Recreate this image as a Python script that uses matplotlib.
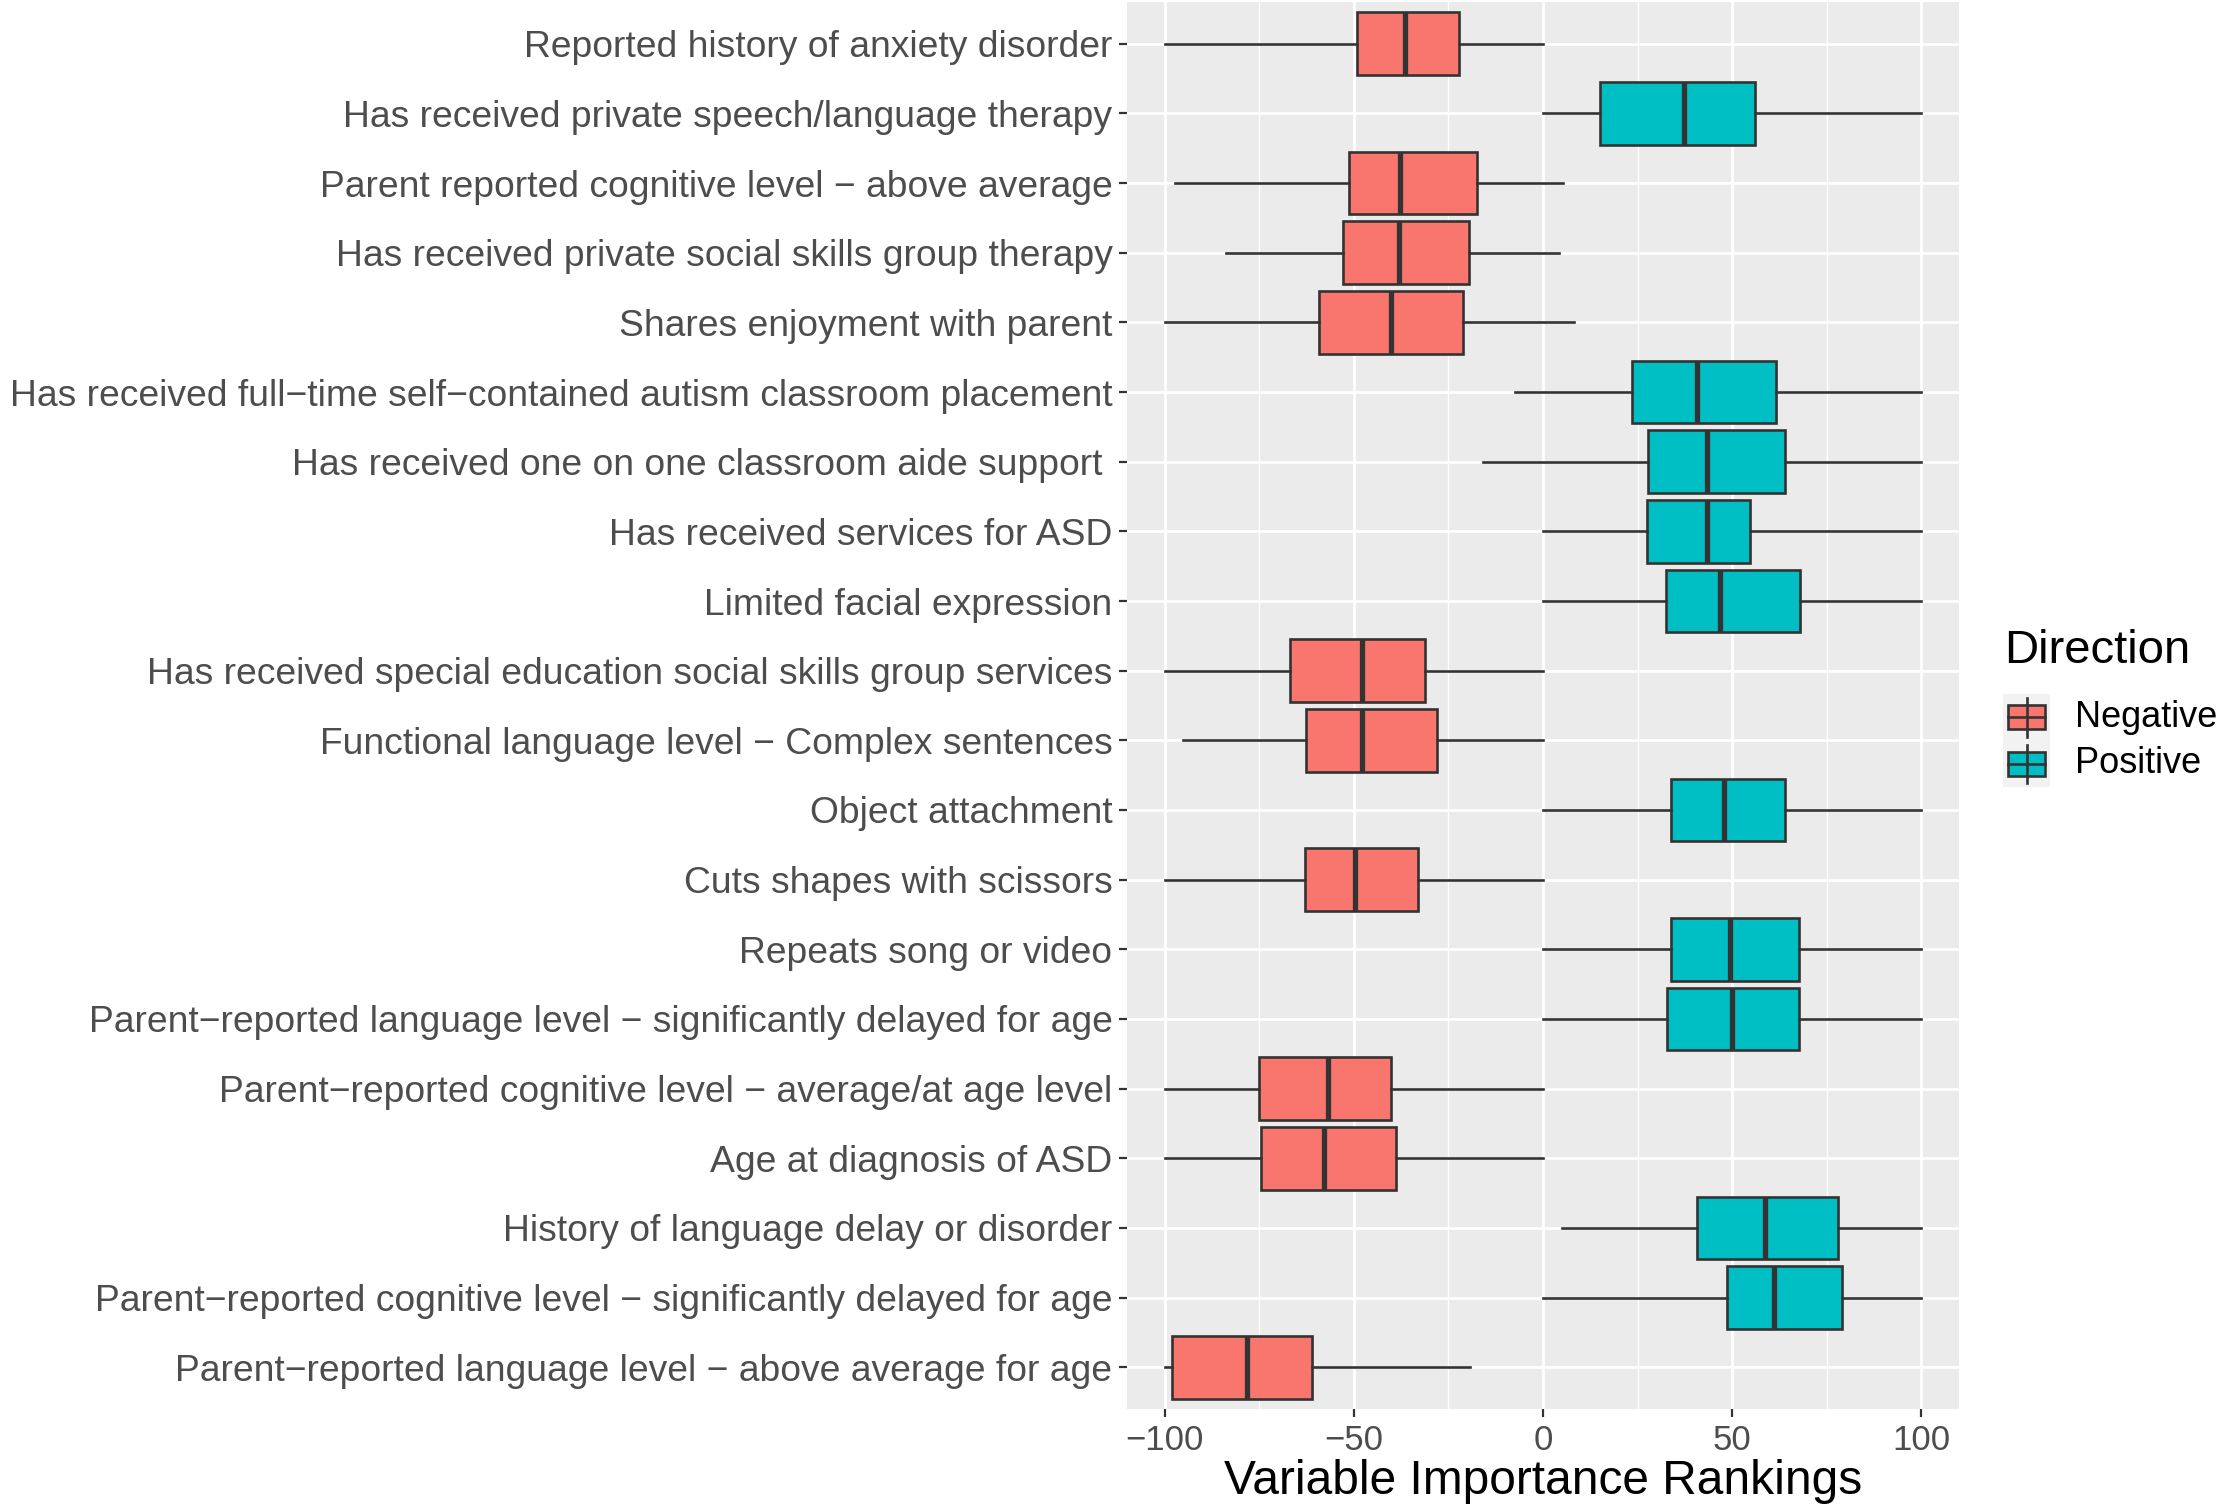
import matplotlib
matplotlib.use("Agg")
import matplotlib.pyplot as plt
from matplotlib.patches import Rectangle
from matplotlib.lines import Line2D

plt.rcParams['font.family'] = ['Liberation Sans', 'DejaVu Sans']

# ---------------- data (top to bottom) ----------------
categories = [
    "Reported history of anxiety disorder",
    "Has received private speech/language therapy",
    "Parent reported cognitive level \u2212 above average",
    "Has received private social skills group therapy",
    "Shares enjoyment with parent",
    "Has received full\u2212time self\u2212contained autism classroom placement",
    "Has received one on one classroom aide support ",
    "Has received services for ASD",
    "Limited facial expression",
    "Has received special education social skills group services",
    "Functional language level \u2212 Complex sentences",
    "Object attachment",
    "Cuts shapes with scissors",
    "Repeats song or video",
    "Parent\u2212reported language level \u2212 significantly delayed for age",
    "Parent\u2212reported cognitive level \u2212 average/at age level",
    "Age at diagnosis of ASD",
    "History of language delay or disorder",
    "Parent\u2212reported cognitive level \u2212 significantly delayed for age",
    "Parent\u2212reported language level \u2212 above average for age",
]
direction = ["Negative", "Positive", "Negative", "Negative", "Negative",
             "Positive", "Positive", "Positive", "Positive", "Negative",
             "Negative", "Positive", "Negative", "Positive", "Positive",
             "Negative", "Negative", "Positive", "Positive", "Negative"]
whisker_low = [-100, 0, -97.2, -83.9, -100, -7.4, -15.9, 0, 0, -100,
               -95.2, 0, -100, 0, 0, -100, -100, 5.1, 0, -100]
q1 = [-49.1, 15.2, -51.4, -52.8, -59.3, 23.6, 27.8, 27.5, 32.6, -66.8,
      -62.6, 33.9, -62.9, 33.9, 32.9, -75.1, -74.5, 40.6, 48.6, -98.1]
median = [-36.4, 37.2, -37.8, -38.1, -40.1, 40.6, 43.3, 43.3, 46.8, -47.9,
          -47.9, 47.9, -49.7, 49.5, 50.1, -56.8, -58.0, 58.7, 61.0, -78.2]
q3 = [-22.2, 56.1, -17.5, -19.6, -21.1, 61.6, 63.9, 54.7, 68.0, -31.1,
      -28.0, 63.9, -33.0, 67.7, 67.7, -40.3, -38.8, 78.1, 79.1, -61.1]
whisker_high = [0, 100, 5.4, 4.3, 8.3, 100, 100, 100, 100, 0,
                0, 100, 0, 100, 100, 0, 0, 100, 100, -19.2]
x_ticks = [-100, -50, 0, 50, 100]
x_tick_labels = ["\u2212100", "\u221250", "0", "50", "100"]
legend_levels = ["Negative", "Positive"]

colors = {"Negative": "#F8766D", "Positive": "#00BFC4"}
EDGE = "#333333"

W, H = 2228, 1507
fig = plt.figure(figsize=(W / 100, H / 100), dpi=100)
fig.patch.set_facecolor("white")

# axes placement in pixels
left_px, right_px, top_px, bottom_px = 1127, 1959, 2, 1409
ax = fig.add_axes([left_px / W, 1 - bottom_px / H,
                   (right_px - left_px) / W, (bottom_px - top_px) / H])
ax.set_facecolor("#EBEBEB")

n = len(categories)
positions = [n - i for i in range(n)]

for d in legend_levels:
    idx = [i for i in range(n) if direction[i] == d]
    stats = [dict(med=median[i], q1=q1[i], q3=q3[i],
                  whislo=whisker_low[i], whishi=whisker_high[i], fliers=[])
             for i in idx]
    ax.bxp(stats, positions=[positions[i] for i in idx], widths=0.9,
           orientation='horizontal', patch_artist=True, showcaps=False,
           showfliers=False,
           boxprops=dict(facecolor=colors[d], edgecolor=EDGE, linewidth=1.9),
           medianprops=dict(color=EDGE, linewidth=3.8, solid_capstyle='butt'),
           whiskerprops=dict(color=EDGE, linewidth=1.9),
           manage_ticks=False, zorder=3)

ax.set_xlim(-110, 110)
ax.set_ylim(0.4, n + 0.6)
ax.set_xticks(x_ticks)
ax.set_xticklabels(x_tick_labels)
ax.set_xticks([-75, -25, 25, 75], minor=True)
ax.set_yticks(positions)
ax.set_yticklabels(categories)

ax.grid(which='major', color='white', linewidth=2.0, zorder=0)
ax.grid(which='minor', axis='x', color='white', linewidth=1.0, zorder=0)
ax.set_axisbelow(True)
for s in ax.spines.values():
    s.set_visible(False)

ax.tick_params(axis='both', which='major', length=5.5, width=1.6,
               color='#333333', labelcolor='#4D4D4D')
ax.tick_params(axis='x', which='major', labelsize=25, pad=5)
ax.tick_params(axis='y', which='major', labelsize=26.8, pad=5)
ax.tick_params(axis='x', which='minor', length=0)

ax.set_xlabel("Variable Importance Rankings", fontsize=34.5, color='black',
              labelpad=2)

# ---------------- legend (manual, figure pixel coords) ----------------
def fx(x):
    return x / W

def fy(y):
    return 1 - y / H

fig.text(fx(2004), fy(663), "Direction", fontsize=34, color='black',
         ha='left', va='baseline')
key_top = 694
key_h = 46.5
for k, d in enumerate(legend_levels):
    y0 = key_top + k * key_h
    fig.patches.append(Rectangle((fx(2003), fy(y0 + key_h)), fx(2050) - fx(2003),
                                 fy(y0) - fy(y0 + key_h), transform=fig.transFigure,
                                 facecolor='#F2F2F2', edgecolor='none'))
    cy = y0 + key_h / 2
    cx = 2026.5
    fig.lines.append(Line2D([fx(cx), fx(cx)], [fy(y0 + 4), fy(y0 + key_h - 4)],
                            transform=fig.transFigure, color=EDGE, linewidth=1.9))
    fig.patches.append(Rectangle((fx(2008), fy(cy + 12)), fx(2045) - fx(2008),
                                 fy(cy - 12) - fy(cy + 12), transform=fig.transFigure,
                                 facecolor=colors[d], edgecolor=EDGE, linewidth=1.9))
    fig.lines.append(Line2D([fx(2008), fx(2045)], [fy(cy), fy(cy)],
                            transform=fig.transFigure, color=EDGE, linewidth=1.9))
    fig.text(fx(2075), fy(cy), d, fontsize=26, color='black',
             ha='left', va='center')

fig.savefig("out.png", dpi=100, facecolor='white')
